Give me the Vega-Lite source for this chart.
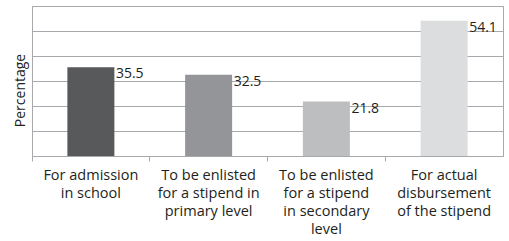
{
  "$schema": "https://vega.github.io/schema/vega-lite/v6.json",
  "width": 471,
  "height": 150,
  "autosize": "none",
  "padding": {"left": 32, "top": 6, "right": 6, "bottom": 85},
  "background": "white",
  "config": {
    "font": "Open Sans",
    "view": {"stroke": "#a7a9ac", "strokeWidth": 1}
  },
  "data": {
    "values": [
      {"category": "For admission|in school", "value": 35.5},
      {"category": "To be enlisted|for a stipend in|primary level", "value": 32.5},
      {"category": "To be enlisted|for a stipend|in secondary|level", "value": 21.8},
      {"category": "For actual|disbursement|of the stipend", "value": 54.1}
    ]
  },
  "encoding": {
    "x": {
      "field": "category",
      "type": "nominal",
      "sort": null,
      "scale": {"paddingInner": 0, "paddingOuter": 0},
      "axis": {
        "title": null,
        "labelAngle": 0,
        "labelExpr": "split(datum.label, '|')",
        "labelFontSize": 14.5,
        "labelLineHeight": 18.3,
        "labelColor": "#231f20",
        "labelPadding": 7,
        "bandPosition": 0,
        "tickSize": 5,
        "tickColor": "#a7a9ac",
        "domain": false,
        "labelBaseline": "top"
      }
    },
    "y": {
      "field": "value",
      "type": "quantitative",
      "scale": {"domain": [0, 60], "nice": false},
      "axis": {
        "title": "Percentage",
        "titleFontSize": 14,
        "titleFontWeight": "normal",
        "titleColor": "#231f20",
        "titleAngle": -90,
        "titleBaseline": "alphabetic",
        "titleAlign": "center",
        "titleX": -8,
        "titleY": 84,
        "values": [0, 10, 20, 30, 40, 50, 60],
        "labels": false,
        "ticks": false,
        "domain": false,
        "grid": true,
        "gridColor": "#a7a9ac",
        "gridWidth": 1.2
      }
    }
  },
  "layer": [
    {
      "mark": {"type": "bar", "size": 47},
      "encoding": {
        "color": {
          "field": "category",
          "type": "nominal",
          "sort": null,
          "scale": {"range": ["#58595b", "#939598", "#bcbec0", "#dcddde"]},
          "legend": null
        }
      }
    },
    {
      "mark": {"type": "text", "align": "left", "baseline": "top", "dx": 25, "dy": 0, "fontSize": 14, "color": "#231f20"},
      "encoding": {
        "text": {"field": "value", "type": "quantitative", "format": ".1f"}
      }
    }
  ]
}
